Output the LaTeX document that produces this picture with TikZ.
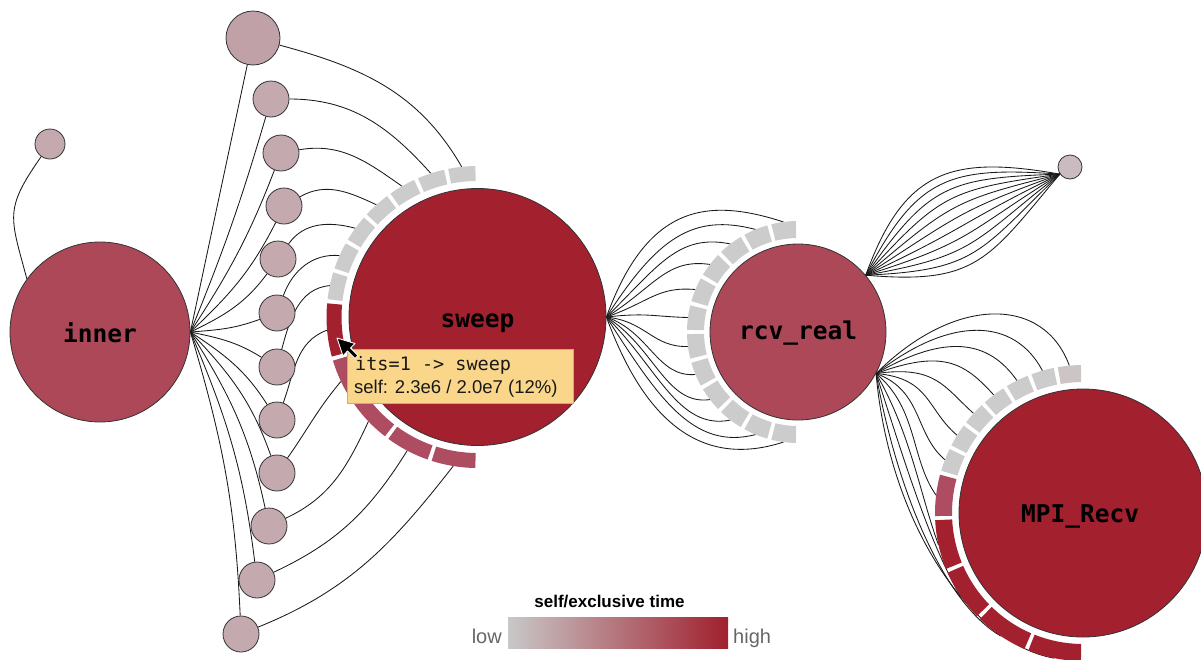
\documentclass[tikz,border=0pt]{standalone}
\usepackage{fontspec}
\setmainfont{Liberation Sans}
\newfontfamily\codefont{DejaVu Sans Mono}
\usetikzlibrary{calc}
\pgfdeclarelayer{bg}
\pgfsetlayers{bg,main}
\definecolor{dred}{HTML}{A3202F}
\definecolor{mred}{HTML}{AC4857}
\definecolor{pseg}{HTML}{AE4D61}
\definecolor{leafc}{HTML}{C4A9AF}
\definecolor{leafd}{HTML}{C0A1A8}
\definecolor{leafl}{HTML}{C9BBBF}
\definecolor{gseg}{HTML}{CCCCCC}
\definecolor{gsegp}{HTML}{CDC4C6}
\definecolor{tipfill}{HTML}{F9D689}
\definecolor{tipdraw}{HTML}{E2A94A}
\definecolor{legl}{HTML}{C8C8C8}
\definecolor{legr}{HTML}{A0202E}
\newcommand\rseg[6]{\fill[#6] ($(#1)+(#4:#3)$) arc[start angle=#4,end angle=#5,radius=#3] -- ($(#1)+(#5:#2)$) arc[start angle=#5,end angle=#4,radius=#2] -- cycle;}
\begin{document}
\begin{tikzpicture}[x=1pt,y=1pt,
 edge/.style={line width=0.85pt,black!90},
 bnode/.style={circle,draw=black!80,line width=0.8pt,inner sep=0pt},
 leaf/.style={bnode,fill=leafc,minimum size=36pt},
 lab/.style={anchor=base,inner sep=0pt,font=\codefont\bfseries\fontsize{24.5}{28}\selectfont}]
\useasboundingbox (0,0) rectangle (1201,-659);
% main nodes
\node[bnode,fill=mred,minimum size=180pt] (inner) at (100,-332) {};
\node[bnode,fill=dred,minimum size=257pt] (sweep) at (477.5,-317) {};
\node[bnode,fill=mred,minimum size=176pt] (rcv) at (798,-332) {};
\node[bnode,fill=dred,minimum size=248pt] (mpi) at (1083,-513) {};
\node[bnode,fill=leafl,minimum size=24pt] (tr) at (1070,-167) {};
\node[leaf,minimum size=30pt] (lone) at (50,-144) {};
\node[leaf,fill=leafd,minimum size=54pt] (n1) at (253,-38) {};
\foreach \i/\x/\y in {2/271/99,3/281/153,4/284/206,5/278/259,6/277/313,7/277/367,8/277/420,9/277/473,10/269/526,11/257/580,12/241/634}
  \node[leaf] (n\i) at (\x,-\y) {};
% attachment points on rings
\foreach \i/\a in {1/96,2/108,3/120,4/132,5/144,6/156,7/168,8/185,9/205.25,10/223.75,11/242.25,12/260.75}
  \coordinate (sa\i) at ($(sweep)+(\a:151)$);
\foreach \k in {0,...,11}{\pgfmathsetmacro\myang{97.5+15*\k}
  \coordinate (ra\k) at ($(rcv)+(\myang:111)$);}
\foreach \k/\a in {0/95.3,1/105.9,2/116.5,3/127.1,4/137.7,5/148.3,6/158.9,7/173.1,8/192.5,9/214,10/236.25,11/258.75}
  \coordinate (ma\k) at ($(mpi)+(\a:148)$);
% edges
\begin{pgfonlayer}{bg}
\draw[edge] (lone) to[out=235,in=105,looseness=1.35] (inner.144);
\draw[edge] (inner.east) -- (n1);
\foreach \i/\myo/\myi in {2/67.8/253.8,3/57/249,4/43.3/243.3,5/25.7/233.7,6/4.3/200.3,7/-11.9/148.1,8/-33.3/122.7,9/-46.3/109.7,10/-57.8/102.2,11/-66.9/97.1,12/-73.4/92.6}
  \draw[edge] (inner.east) to[out=\myo,in=\myi] (n\i);
\foreach \i/\myo/\myi in {1/-15/120,2/0/132,3/10/145,4/30/155,5/55/165,6/70/175,7/75/185,8/70/200,9/55/230,10/25/245,11/25/238,12/22/232}
  \draw[edge] (n\i) to[out=\myo,in=\myi] (sa\i);
\foreach \k in {0,...,11}{
  \pgfmathsetmacro\myu{(\k-5.5)/5.5}
  \pgfmathsetmacro\myo{-70*\myu}
  \pgfmathsetmacro\myi{180+18*\myu}
  \pgfmathsetmacro\mya{40+80*\myu*\myu}
  \pgfmathsetmacro\myb{35+45*\myu*\myu}
  \draw[edge] (sweep.east) .. controls +(\myo:\mya) and +(\myi:\myb) .. (ra\k);}
\foreach \j in {0,...,10}{
  \pgfmathsetmacro\myo{70-7.5*\j}
  \pgfmathsetmacro\myi{170+6*\j}
  \draw[edge] (rcv.40) to[out=\myo,in=\myi,looseness=1.3] (tr.215);}
\foreach \k/\myo/\mya/\myi/\myb in {0/45/110/110/75,1/38/95/118/60,2/30/80/125/50,3/20/70/132/45,4/8/60/138/40,5/-5/55/140/40,6/-20/50/140/40,7/-40/55/125/45,8/-60/70/110/55,9/-72/90/120/65,10/-80/120/150/65,11/-85/150/170/85}
  \draw[edge] (rcv.-28) .. controls +(\myo:\mya) and +(\myi:\myb) .. (ma\k);
\end{pgfonlayer}
% rings
\foreach \i in {0,...,6}{\pgfmathsetmacro\aa{90.8+12*\i}\pgfmathsetmacro\ab{101.2+12*\i}
  \rseg{sweep}{136}{151}{\aa}{\ab}{gseg}}
\rseg{sweep}{136}{151}{174.8}{195.2}{dred}
\rseg{sweep}{136}{151}{196.8}{213.7}{pseg}
\rseg{sweep}{136}{151}{215.3}{232.2}{pseg}
\rseg{sweep}{136}{151}{233.8}{250.7}{pseg}
\rseg{sweep}{136}{151}{252.3}{269.2}{pseg}
\foreach \k in {0,...,11}{\pgfmathsetmacro\aa{91.1+15*\k}\pgfmathsetmacro\ab{103.9+15*\k}
  \rseg{rcv}{94}{111}{\aa}{\ab}{gseg}}
\rseg{mpi}{131}{148}{90.8}{99.8}{gsegp}
\foreach \i in {1,...,6}{\pgfmathsetmacro\aa{90.8+10.6*\i}\pgfmathsetmacro\ab{99.8+10.6*\i}
  \rseg{mpi}{131}{148}{\aa}{\ab}{gseg}}
\rseg{mpi}{131}{148}{165}{181.2}{pseg}
\rseg{mpi}{131}{148}{182.8}{202.2}{dred}
\rseg{mpi}{131}{148}{203.8}{224.2}{dred}
\rseg{mpi}{131}{148}{225.8}{246.7}{dred}
\rseg{mpi}{131}{148}{248.3}{269.2}{dred}
% labels
\node[lab] (innerl) at (100,-342) {inner};
\node[lab] (sweepl) at (477.5,-327) {sweep};
\node[lab] (rcvl) at (798,-339) {rcv\_real};
\node[lab] (mpil) at (1080,-522) {MPI\_Recv};
% tooltip
\node[draw=tipdraw,fill=tipfill,line width=0.6pt,minimum width=226pt,minimum height=54pt,inner sep=0pt] (tip) at (460,-376) {};
\node[anchor=base west,inner sep=0pt,text=black!90,font=\codefont\fontsize{18.5}{22}\selectfont] (tipa) at (355,-370) {its=1 -> sweep};
\node[anchor=base west,inner sep=0pt,text=black!90,font=\fontsize{18.5}{22}\selectfont] (tipb) at (354,-393) {self: 2.3e6 / 2.0e7 (12\%)};
% cursor
\filldraw[fill=black,draw=white,line width=0.9pt,line join=round] (337,-338) -- (355,-343.5) -- (350.5,-348) -- (358,-355.5) -- (355,-358.5) -- (347.5,-351) -- (343,-356) -- cycle;
% legend
\node[anchor=base,inner sep=0pt,font=\bfseries\fontsize{17}{20}\selectfont] (legt) at (609.5,-607) {self/exclusive time};
\node[inner sep=0pt,minimum width=220pt,minimum height=31pt,left color=legl,right color=legr] (legbar) at (618,-632.5) {};
\node[anchor=base east,inner sep=0pt,text=black!60,font=\fontsize{20}{24}\selectfont] (low) at (502,-643) {low};
\node[anchor=base west,inner sep=0pt,text=black!60,font=\fontsize{20}{24}\selectfont] (high) at (733,-643) {high};
\end{tikzpicture}
\end{document}
